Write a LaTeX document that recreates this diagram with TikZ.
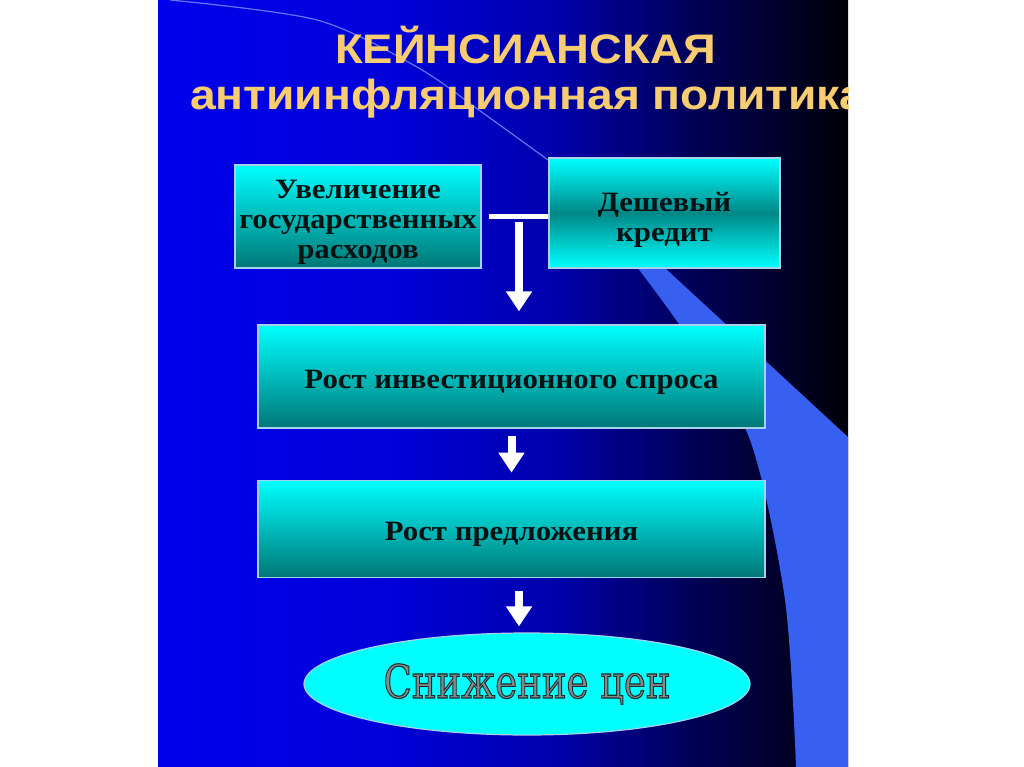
\documentclass[tikz,border=0pt]{standalone}
\usepackage{fontspec}
\usepackage{graphicx}
\setmainfont{Liberation Serif}
\newfontfamily\titlefont[FakeStretch=1.1]{Liberation Sans}
\newfontfamily\boxfont[FakeStretch=1.1]{Liberation Serif}
\newfontfamily\wavefont{DejaVu Serif}
\usetikzlibrary{positioning,arrows.meta,shapes.geometric}

\definecolor{slideA}{RGB}{0,0,236}
\definecolor{slideB}{RGB}{0,0,216}
\definecolor{slideC}{RGB}{0,0,170}
\definecolor{slideD}{RGB}{0,0,85}
\definecolor{slideE}{RGB}{0,0,8}
\definecolor{bandblue}{RGB}{55,95,240}
\definecolor{bandline}{RGB}{95,120,245}
\definecolor{titlegold}{RGB}{248,204,112}
\definecolor{boxtop}{RGB}{0,255,255}
\definecolor{boxbottom}{RGB}{0,118,118}
\definecolor{boxmid}{RGB}{0,135,135}
\definecolor{boxrim}{RGB}{165,210,235}
\definecolor{boxink}{RGB}{8,18,18}
\definecolor{waveink}{RGB}{130,140,140}

\pgfdeclarehorizontalshading{slideshade}{100bp}{color(0bp)=(slideA); color(25bp)=(slideA); color(42bp)=(slideB); color(54bp)=(slideC); color(64bp)=(slideD); color(75bp)=(slideE); color(100bp)=(slideE)}

\newcommand{\waveword}[1]{\scalebox{1}[1.25]{\wavefont\fontsize{37}{37}\selectfont\special{pdf:literal direct 2 Tr 0.9 w 0.1 0.18 0.18 RG}#1\special{pdf:literal direct 0 Tr}}}

\tikzset{
  stepbox/.style={draw=boxrim, line width=1.2pt, top color=boxtop, bottom color=boxbottom,
    text=boxink, align=center, inner sep=0pt,
    font=\boxfont\bfseries\fontsize{28}{30}\selectfont,
    execute at begin node={\rule{0pt}{30pt}}},
  textdrop/.style={execute at end node={\rule{0pt}{#1}}},
  goalshape/.style={ellipse, draw=boxrim, line width=1.2pt, fill=boxtop, inner sep=0pt,
    text=waveink},
  titletext/.style={text=titlegold, inner sep=0pt, font=\titlefont\bfseries},
  teebar/.style={draw=white, line width=5pt},
  flowarrow/.style={draw=white, line width=8pt, -{Triangle[width=25pt,length=20pt]}}
}

\begin{document}
\begin{tikzpicture}[x=1pt,y=1pt,yscale=-1]
\useasboundingbox (0,0) rectangle (1024,767);
\fill[white] (0,0) rectangle (1024,767);

% slide background
\begin{scope}
\clip (158,0) rectangle (848,767);
\shade[shading=slideshade] (158,0) rectangle (848,767);
\fill[bandblue] plot[smooth] coordinates {(548,160) (620,245) (690,340) (750,440) (785,600) (796,767)} -- (848,767) -- (848,437) -- cycle;
\draw[bandline, line width=1.2pt] plot[smooth] coordinates {(170,0) (317,20) (417,67) (483,113) (548,160)};

% title
\node[titletext, anchor=base, font=\titlefont\bfseries\fontsize{41.3}{48}\selectfont] (ttlA) at (525.5,64) {КЕЙНСИАНСКАЯ};
\node[titletext, anchor=base west, font=\titlefont\bfseries\fontsize{42}{52}\selectfont] (ttlB) at (190,110) {антиинфляционная политика};
\end{scope}

% boxes
\node[stepbox, textdrop=90pt, minimum width=246pt, minimum height=103pt] (gov) at (358,216.5) {Увеличение\\государственных\\расходов};
\node[stepbox, textdrop=62pt, minimum width=231pt, minimum height=110pt, bottom color=boxtop, middle color=boxmid] (credit) at (664.5,213) {Дешевый\\кредит};
\node[stepbox, minimum width=507pt, minimum height=103pt] (invest) at (511.5,376.5) {Рост инвестиционного спроса};
\node[stepbox, minimum width=507pt, minimum height=97pt, below=51pt of invest] (supply) {Рост предложения};
\node[goalshape, minimum width=446pt, minimum height=102pt] (price) at (527,684) {\waveword{Снижение цен}};

% connectors
\coordinate (tee) at (519,216);
\coordinate (drop) at ([xshift=7.5pt]supply.south);
\draw[teebar] ([xshift=7pt]gov.east) -- (gov.east -| credit.west);
\draw[flowarrow, shorten <=6pt, shorten >=13pt] (tee) -- (tee |- invest.north);
\draw[flowarrow, shorten <=7pt, shorten >=7pt] (invest.south) -- (supply.north);
\draw[flowarrow, shorten <=13pt, shorten >=6pt] (drop) -- (drop |- price.north);

\end{tikzpicture}
\end{document}
